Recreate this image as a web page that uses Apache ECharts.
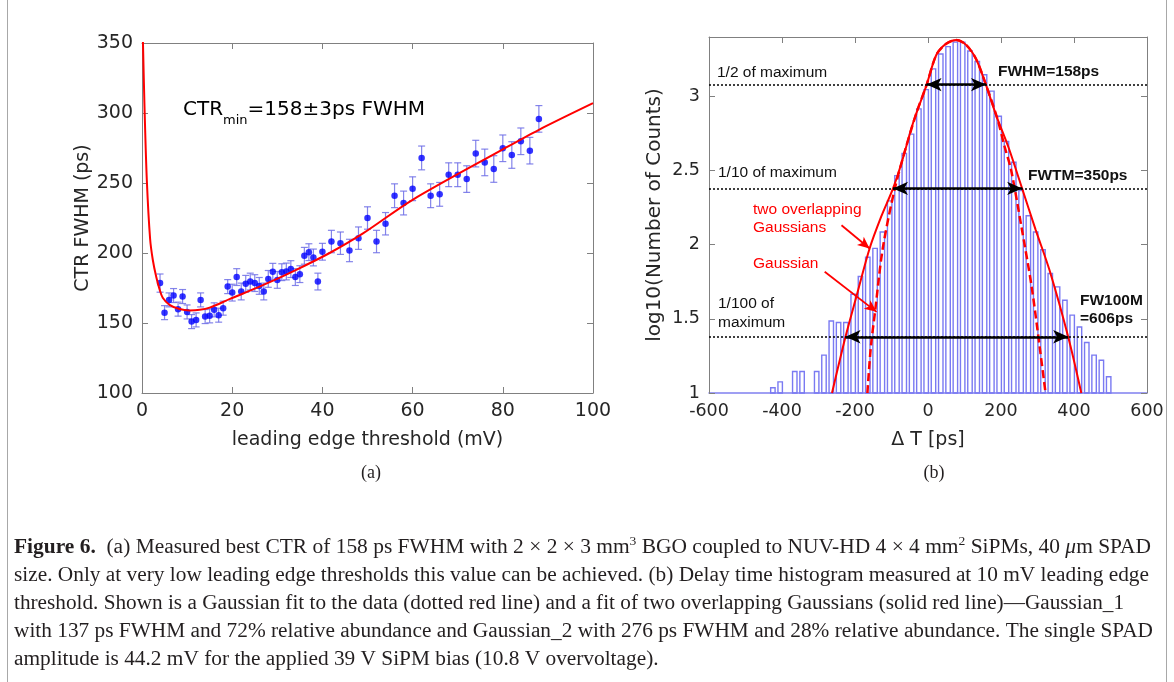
<!DOCTYPE html>
<html>
<head>
<meta charset="utf-8">
<title>Figure 6</title>
<script src="https://cdn.jsdelivr.net/npm/echarts@6/dist/echarts.min.js"></script>
<style>
html, body { margin: 0; padding: 0; background: #fff; }
#chart { width: 1174px; height: 682px; }
</style>
</head>
<body>
<div id="chart"></div>
<script>
// ---- (a) CTR vs leading edge threshold ----
const thresholdMv = [4,5,6,7,8,9,10,11,12,13,14,15,16,17,18,19,20,21,22,23,24,25,26,27,28,29,30,31,32,33,34,35,36,37,38,39,40,
  42,44,46,48,50,52,54,56,58,60,62,64,66,68,70,72,74,76,78,80,82,84,86,88];
const ctrPs = [178.5,157.4,166.5,169.6,159.9,168.9,157.9,151,152.2,166.5,154.6,155.1,159.4,155.6,160.6,176,171.7,182.8,172.5,178,
  179.6,178.5,176.5,172.5,181.5,186.6,180.8,186.3,186.8,188.5,182.8,184.9,198,200.6,196.8,179.6,200.9,
  208.2,207,201.8,210.6,225,208.2,220.9,240.9,235.7,245.9,267.9,240.9,241.9,255.9,255.9,252.8,271,264.7,260,274.8,270,279.8,273.1,295.8];
const ctrErrPs = [6.5,5,5,5,5,5,5,5,5,5,5,5,5,5,5,5,6,6,6,6,6,6,6,6,6,6,6,6,6,6,6,6,6,6,6,6,6,
  8,8,8,8,8,8,8,8.5,8.5,8.5,8.5,8.5,8.5,8.5,8.5,9.5,9.5,9.5,9.5,9.5,9.5,9.5,9.5,9.5];
const fitMv = [0.2,0.55,1.07,1.8,2.4,3.15,3.9,4.6,6.1,8.3,10.5,12.8,15,19.4,26.8,34.2,41.6,49,60,80,88,100];
const fitPs = [352,305,252,210,195,183,174,168,163,160,159,159.4,161,167,177,188,200,214,238,274,288,307];

// ---- (b) delay time histogram (log10 counts) ----
const binCenterPs = [-425,-405,-365,-345,-305,-285,-265,-245,-225,-205,-185,-165,-145,-125,-105,-85,-65,-45,-25,-5,
  15,35,55,75,95,115,135,155,175,195,215,235,255,275,295,315,335,355,375,395,415,435,455,475,495];
const logCounts = [1.04,1.08,1.15,1.15,1.15,1.26,1.49,1.48,1.48,1.67,1.79,1.92,1.98,2.09,2.30,2.47,2.62,2.75,2.92,3.05,
  3.19,3.29,3.34,3.37,3.37,3.31,3.24,3.15,3.04,2.87,2.70,2.56,2.37,2.20,2.09,1.97,1.81,1.72,1.63,1.53,1.45,1.345,1.26,1.226,1.114];
const twoGaussPs = [-263,-226,-195,-160,-128,-96,-73,-41,-15,-4,23,50,78,105,132,159,187,220,258,295,333,384,420];
const twoGaussLog = [1.0,1.379,1.66,1.974,2.19,2.378,2.547,2.82,3.0,3.076,3.28,3.355,3.38,3.345,3.25,3.076,2.87,2.66,2.378,2.1,1.827,1.379,1.0];
const gaussPs = [-166,-157,-145,-124,-91,-60,-30,-4,23,50,78,105,132,159,190,210,228,256,284,306,322];
const gaussLog = [1.0,1.3,1.55,1.974,2.378,2.66,2.9,3.076,3.28,3.355,3.38,3.345,3.25,3.076,2.85,2.66,2.50,2.12,1.716,1.31,1.0];
const levelLog = [3.079, 2.379, 1.379];           // 1/2, 1/10, 1/100 of maximum
const widthFromPs = [-4, -96, -226];
const widthToPs = [159, 258, 384];
const calloutFrom = [[-237, 2.131], [-283, 1.817]]; // red pointer arrows
const calloutTo = [[-160, 1.974], [-141, 1.547]];

const zip = (a, b) => a.map((v, i) => [v, b[i]]);

const GRAY = '#808080';
const TXT = '#262626';
const SANS = 'DejaVu Sans';
const ARIAL = 'Liberation Sans';
const SERIF = 'Liberation Serif';

function boxAxis(grid, pos, min, max, interval, labels) {
  return {
    gridIndex: grid, type: 'value', position: pos, min: min, max: max, interval: interval,
    axisLine: { show: true, onZero: false, lineStyle: { color: GRAY, width: 1 } },
    axisTick: { show: true, inside: true, length: 6, lineStyle: { color: GRAY } },
    axisLabel: { show: labels, color: TXT, fontFamily: SANS, fontSize: 19, margin: 9 },
    splitLine: { show: false }
  };
}

const xA = boxAxis(0, 'bottom', 0, 100, 20, true);
xA.name = 'leading edge threshold (mV)';
xA.nameLocation = 'middle'; xA.nameGap = 38;
xA.nameTextStyle = { color: TXT, fontFamily: SANS, fontSize: 19 };
const yA = boxAxis(0, 'left', 100, 350, 50, true);
yA.name = 'CTR FWHM (ps)';
yA.nameLocation = 'middle'; yA.nameGap = 46;
yA.nameTextStyle = { color: TXT, fontFamily: SANS, fontSize: 19 };

const xB = boxAxis(1, 'bottom', -600, 600, 200, true);
xB.axisLine.lineStyle = { color: '#8080f0', width: 1.5 };
xB.axisLabel.fontSize = 17.5;
xB.axisLabel.showMinLabel = true; xB.axisLabel.showMaxLabel = true;
xB.name = 'Δ T [ps]';
xB.nameLocation = 'middle'; xB.nameGap = 38;
xB.nameTextStyle = { color: TXT, fontFamily: SANS, fontSize: 19 };
const yB = boxAxis(1, 'left', 1, 3.4, 0.5, true);
yB.axisLabel.fontSize = 17.5;
yB.axisLabel.showMaxLabel = false;
yB.name = 'log10(Number of Counts)';
yB.nameLocation = 'middle'; yB.nameGap = 44;
yB.nameTextStyle = { color: TXT, fontFamily: SANS, fontSize: 20 };

// caption (figure legend text)
const captionLines = [
  [['b', 'Figure 6.'], ['n', '  (a) Measured best CTR of 158 ps FWHM with 2 × 2 × 3 mm'], ['sup', '3'],
   ['n', ' BGO coupled to NUV-HD 4 × 4 mm'], ['sup', '2'], ['n', ' SiPMs, 40 '], ['it', 'μ'], ['n', 'm SPAD']],
  [['n', 'size. Only at very low leading edge thresholds this value can be achieved. (b) Delay time histogram measured at 10 mV leading edge']],
  [['n', 'threshold. Shown is a Gaussian fit to the data (dotted red line) and a fit of two overlapping Gaussians (solid red line)—Gaussian_1']],
  [['n', 'with 137 ps FWHM and 72% relative abundance and Gaussian_2 with 276 ps FWHM and 28% relative abundance. The single SPAD']],
  [['n', 'amplitude is 44.2 mV for the applied 39 V SiPM bias (10.8 V overvoltage).']]
];
const captionRight = [1151, 1149, 1124, 1153, null];
const captionY = [548, 576, 604, 632, 660];
const CAP_X = 14;
const CAP_SIZE = 20.5;
const capFont = {
  n: CAP_SIZE + 'px "Liberation Serif"', b: 'bold ' + CAP_SIZE + 'px "Liberation Serif"',
  it: 'italic ' + CAP_SIZE + 'px "Liberation Serif"', sup: '13px "Liberation Serif"'
};
const capRich = {
  n: { fontFamily: SERIF, fontSize: CAP_SIZE, lineHeight: 26, verticalAlign: 'middle', fill: '#231f20' },
  b: { fontFamily: SERIF, fontSize: CAP_SIZE, fontWeight: 'bold', lineHeight: 26, verticalAlign: 'middle', fill: '#231f20' },
  it: { fontFamily: SERIF, fontSize: CAP_SIZE, fontStyle: 'italic', lineHeight: 26, verticalAlign: 'middle', fill: '#231f20' },
  sup: { fontFamily: SERIF, fontSize: 13, lineHeight: 13, verticalAlign: 'top', fill: '#231f20' }
};
const mctx = document.createElement('canvas').getContext('2d');
function lineWidth(segs) {
  let w = 0;
  segs.forEach(([s, t]) => { mctx.font = capFont[s]; w += mctx.measureText(t).width; });
  return w;
}
const scales = captionLines.map((segs, i) =>
  captionRight[i] ? (captionRight[i] - CAP_X) / lineWidth(segs) : null);
const known = scales.filter(s => s);
const meanScale = known.reduce((a, b) => a + b, 0) / known.length;

const graphics = [];
captionLines.forEach((segs, i) => {
  graphics.push({
    type: 'text', x: CAP_X, y: captionY[i], scaleX: scales[i] || meanScale,
    style: {
      text: segs.map(([s, t]) => '{' + s + '|' + t + '}').join(''),
      rich: capRich, align: 'left', verticalAlign: 'middle', fill: '#231f20'
    }
  });
});

function label(text, x, y, opts) {
  return {
    type: 'text', x: x, y: y, z: 20,
    style: Object.assign({
      text: text, fill: '#111', fontFamily: ARIAL, fontSize: 15.5,
      align: 'left', verticalAlign: 'middle'
    }, opts || {})
  };
}
graphics.push(
  // panel letters
  label('(a)', 371, 473, { fontFamily: SERIF, fontSize: 18, align: 'center', fill: '#231f20' }),
  label('(b)', 934, 473, { fontFamily: SERIF, fontSize: 18, align: 'center', fill: '#231f20' }),
  // (a) annotation
  {
    type: 'text', x: 183, y: 93, z: 20,
    style: {
      text: '{m|CTR}{s|min}{m|=158±3ps FWHM}', align: 'left', verticalAlign: 'top',
      rich: {
        m: { fontFamily: SANS, fontSize: 20, lineHeight: 34, verticalAlign: 'middle', fill: '#000' },
        s: { fontFamily: SANS, fontSize: 13, lineHeight: 13, verticalAlign: 'bottom', fill: '#000' }
      }
    }
  },
  // (b) annotations
  label('1/2 of maximum', 717, 72.5),
  label('1/10 of maximum', 718, 172.5),
  label('1/100 of', 718, 304),
  label('maximum', 718, 322.5),
  label('FWHM=158ps', 998, 71.5, { fontWeight: 'bold' }),
  label('FWTM=350ps', 1028, 176, { fontWeight: 'bold' }),
  label('FW100M', 1080, 301, { fontWeight: 'bold' }),
  label('=606ps', 1080, 318.5, { fontWeight: 'bold' }),
  label('two overlapping', 753, 210, { fill: '#ff0000' }),
  label('Gaussians', 753, 227.5, { fill: '#ff0000' }),
  label('Gaussian', 753, 263.5, { fill: '#ff0000' }),
  // figure frame
  { type: 'line', shape: { x1: 7.5, y1: 0, x2: 7.5, y2: 682 }, style: { stroke: '#a8a8a8', lineWidth: 1 } },
  { type: 'line', shape: { x1: 1166.5, y1: 0, x2: 1166.5, y2: 682 }, style: { stroke: '#a8a8a8', lineWidth: 1 } }
);

const option = {
  animation: false,
  backgroundColor: '#fff',
  textStyle: { fontFamily: SANS },
  grid: [
    { left: 142, top: 43, width: 451, height: 350, outerBoundsMode: 'none' },
    { left: 709, top: 37, width: 438, height: 356, outerBoundsMode: 'none' }
  ],
  xAxis: [xA, boxAxis(0, 'top', 0, 100, 20, false), xB, boxAxis(1, 'top', -600, 600, 200, false)],
  yAxis: [yA, boxAxis(0, 'right', 100, 350, 50, false), yB, boxAxis(1, 'right', 1, 3.4, 0.5, false)],
  series: [
    {
      // error bars
      type: 'custom', xAxisIndex: 0, yAxisIndex: 0, z: 3,
      data: thresholdMv.map((x, i) => [x, ctrPs[i] - ctrErrPs[i], ctrPs[i] + ctrErrPs[i]]),
      encode: { x: 0, y: [1, 2] },
      renderItem: function (params, api) {
        const top = api.coord([api.value(0), api.value(2)]);
        const bot = api.coord([api.value(0), api.value(1)]);
        const st = { stroke: '#6f6fe6', lineWidth: 1.2, opacity: 0.85 };
        const h = 3.5;
        return {
          type: 'group', children: [
            { type: 'line', shape: { x1: top[0], y1: top[1], x2: bot[0], y2: bot[1] }, style: st },
            { type: 'line', shape: { x1: top[0] - h, y1: top[1], x2: top[0] + h, y2: top[1] }, style: st },
            { type: 'line', shape: { x1: bot[0] - h, y1: bot[1], x2: bot[0] + h, y2: bot[1] }, style: st }
          ]
        };
      }
    },
    {
      type: 'scatter', xAxisIndex: 0, yAxisIndex: 0, z: 4,
      data: zip(thresholdMv, ctrPs),
      symbol: 'circle', symbolSize: 6.5,
      itemStyle: { color: '#0000ff' }
    },
    {
      type: 'line', xAxisIndex: 0, yAxisIndex: 0, z: 5,
      data: zip(fitMv, fitPs),
      smooth: 0.3, showSymbol: false, clip: true,
      lineStyle: { color: '#ff0000', width: 2 }
    },
    {
      type: 'bar', xAxisIndex: 2, yAxisIndex: 2, z: 2,
      data: zip(binCenterPs, logCounts),
      barWidth: '80%', clip: true,
      itemStyle: { color: 'rgba(255,255,255,0)', borderColor: '#7a7af2', borderWidth: 1.4 },
      markLine: {
        silent: true, symbol: 'none', z: 6,
        label: { show: false },
        lineStyle: { color: '#000', type: [2, 2], width: 1.5 },
        data: levelLog.map(v => ({ yAxis: v }))
      }
    },
    {
      type: 'line', xAxisIndex: 2, yAxisIndex: 2, z: 5,
      data: zip(twoGaussPs, twoGaussLog),
      smooth: 0.3, showSymbol: false, clip: true,
      lineStyle: { color: '#ff0000', width: 2 },
      markLine: {
        silent: true, z: 7,
        symbol: ['arrow', 'arrow'], symbolSize: [10, 15],
        label: { show: false },
        lineStyle: { color: '#000', type: 'solid', width: 2.5 },
        data: levelLog.map((v, i) => [{ coord: [widthFromPs[i], v] }, { coord: [widthToPs[i], v] }])
      }
    },
    {
      type: 'line', xAxisIndex: 2, yAxisIndex: 2, z: 5,
      data: zip(gaussPs, gaussLog),
      smooth: 0.3, showSymbol: false, clip: true,
      lineStyle: { color: '#ff0000', width: 2.5, type: [8, 4] },
      markLine: {
        silent: true, z: 7,
        symbol: ['none', 'arrow'], symbolSize: [8, 12],
        label: { show: false },
        lineStyle: { color: '#ff0000', type: 'solid', width: 1.8 },
        data: calloutFrom.map((p, i) => [{ coord: p }, { coord: calloutTo[i] }])
      }
    }
  ],
  graphic: graphics
};

const chart = echarts.init(document.getElementById('chart'));
chart.setOption(option);
</script>
</body>
</html>
